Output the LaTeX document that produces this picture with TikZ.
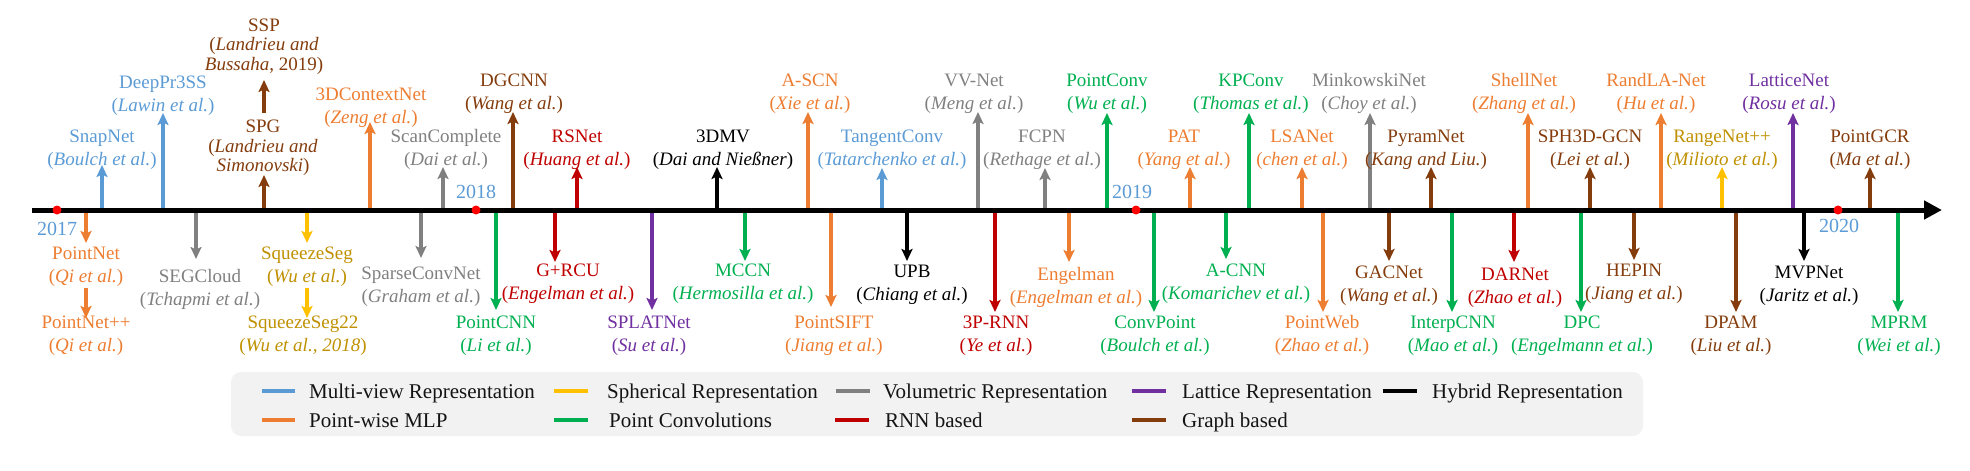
\documentclass[tikz,border=0pt]{standalone}
\usepackage{fontspec}
\setmainfont{Liberation Serif}
\usetikzlibrary{arrows.meta}
\definecolor{mvA}{HTML}{5B9BD5}\definecolor{mvT}{HTML}{5B9BD5}
\definecolor{pwA}{HTML}{ED7D31}\definecolor{pwT}{HTML}{ED7D31}
\definecolor{sphA}{HTML}{FFC000}\definecolor{sphT}{HTML}{BF9000}
\definecolor{volA}{HTML}{808080}\definecolor{volT}{HTML}{808080}
\definecolor{latA}{HTML}{7030A0}\definecolor{latT}{HTML}{7030A0}
\definecolor{hyA}{HTML}{000000}\definecolor{hyT}{HTML}{000000}
\definecolor{pcA}{HTML}{00B050}\definecolor{pcT}{HTML}{00B050}
\definecolor{rnnA}{HTML}{C00000}\definecolor{rnnT}{HTML}{C00000}
\definecolor{grA}{HTML}{843C0C}\definecolor{grT}{HTML}{843C0C}
\definecolor{legbg}{HTML}{F2F2F2}
\tikzset{
  evarrow/.style={line width=3.8pt,-{Stealth[length=12pt,width=11pt,inset=2.5pt]}},
  lab/.style={font=\fontsize{19}{23}\selectfont,align=center,inner sep=0pt},
  labthree/.style={font=\fontsize{19}{19.7}\selectfont,align=center,inner sep=0pt},
  yearlab/.style={font=\fontsize{20}{24}\selectfont,text=mvT,inner sep=0pt},
  legline/.style={line width=4.5pt},
  legtext/.style={font=\fontsize{21}{25}\selectfont,anchor=base west,inner sep=0pt,text=black!92},
  axisline/.style={line width=5pt,-{Triangle[length=18pt,width=18pt]}},
  yeardot/.style={circle,fill=red,inner sep=0pt,minimum size=9pt},
}
% name, category, arrow x, base y, tip y, label x, label y, line1, line2
\newcommand\ev[9]{%
  \coordinate (#1-b) at (#3,#4);
  \coordinate (#1-t) at (#3,#5);
  \draw[evarrow,#2A] (#1-b) -- (#1-t);
  \node[lab,text=#2T] (#1) at (#6,#7) {#8\\(\textit{#9})};
}
\begin{document}
\begin{tikzpicture}[x=1pt,y=-1pt]
\useasboundingbox (0,0) rectangle (1970,471);
% ---- upper events
\ev{snapnet}{mv}{102}{210}{165}{102}{149.5}{SnapNet}{Boulch et al.}
\ev{deeppr}{mv}{163}{210}{113}{163}{95.5}{DeepPr3SS}{Lawin et al.}
\coordinate (spg-b) at (264,210); \coordinate (spg-t) at (264,175);
\draw[evarrow,grA] (spg-b) -- (spg-t);
\node[labthree,text=grT] (spg) at (263,148) {SPG\\(\textit{Landrieu and}\\\textit{Simonovski})};
\coordinate (ssp-b) at (264,113); \coordinate (ssp-t) at (264,80);
\draw[evarrow,grA] (ssp-b) -- (ssp-t);
\node[labthree,text=grT] (ssp) at (264,46.5) {SSP\\(\textit{Landrieu and}\\\textit{Bussaha}, 2019)};
\ev{ctxnet}{pw}{370}{210}{122}{371}{107.5}{3DContextNet}{Zeng et al.}
\ev{scancomp}{vol}{443}{210}{167}{446}{149.5}{ScanComplete}{Dai et al.}
\ev{dgcnn}{gr}{513}{210}{112}{514}{93.5}{DGCNN}{Wang et al.}
\ev{rsnet}{rnn}{577}{210}{167}{577}{149.5}{RSNet}{Huang et al.}
\ev{dmv}{hy}{717}{210}{167}{723}{149.5}{3DMV}{Dai and Nießner}
\ev{ascn}{pw}{808}{210}{112}{810}{93.5}{A-SCN}{Xie et al.}
\ev{tangent}{mv}{882}{210}{168}{892}{149.5}{TangentConv}{Tatarchenko et al.}
\ev{vvnet}{vol}{978}{210}{112}{974}{93.5}{VV-Net}{Meng et al.}
\ev{fcpn}{vol}{1045}{210}{168}{1042}{149.5}{FCPN}{Rethage et al.}
\ev{pconv}{pc}{1107}{210}{113}{1107}{93.5}{PointConv}{Wu et al.}
\ev{pat}{pw}{1190}{210}{167}{1184}{149.5}{PAT}{Yang et al.}
\ev{kpconv}{pc}{1249}{210}{113}{1251}{93.5}{KPConv}{Thomas et al.}
\ev{lsanet}{pw}{1302}{210}{167}{1302}{149.5}{LSANet}{chen et al.}
\ev{minkowski}{vol}{1370}{210}{113}{1369}{93.5}{MinkowskiNet}{Choy et al.}
\ev{pyram}{gr}{1431}{210}{167}{1426}{149.5}{PyramNet}{Kang and Liu.}
\ev{shell}{pw}{1528}{210}{113}{1524}{93.5}{ShellNet}{Zhang et al.}
\ev{sphgcn}{gr}{1590}{210}{167}{1590}{149.5}{SPH3D-GCN}{Lei et al.}
\ev{randla}{pw}{1661}{210}{113}{1656}{93.5}{RandLA-Net}{Hu et al.}
\ev{rangenet}{sph}{1722}{210}{167}{1722}{149.5}{RangeNet++}{Milioto et al.}
\ev{lattice}{lat}{1793}{210}{113}{1789}{93.5}{LatticeNet}{Rosu et al.}
\ev{pointgcr}{gr}{1870}{210}{167}{1870}{149.5}{PointGCR}{Ma et al.}
% ---- lower events
\ev{pointnet}{pw}{86}{210}{243}{86}{266.5}{PointNet}{Qi et al.}
\ev{pointnetpp}{pw}{86}{288}{318}{86}{335.5}{PointNet++}{Qi et al.}
\ev{segcloud}{vol}{196}{210}{259}{200}{289.5}{SEGCloud}{Tchapmi et al.}
\ev{squeeze}{sph}{307}{210}{243}{307}{266.5}{SqueezeSeg}{Wu et al.}
\ev{squeezeb}{sph}{307}{288}{318}{303}{335.5}{SqueezeSeg22}{Wu et al., 2018}
\ev{sparse}{vol}{421}{210}{258}{421}{286.5}{SparseConvNet}{Graham et al.}
\ev{pointcnn}{pc}{496}{210}{310}{496}{335.5}{PointCNN}{Li et al.}
\ev{grcu}{rnn}{555}{210}{262}{568}{283.5}{G+RCU}{Engelman et al.}
\ev{splat}{lat}{652}{210}{310}{649}{335.5}{SPLATNet}{Su et al.}
\ev{mccn}{pc}{745}{210}{261}{743}{283.5}{MCCN}{Hermosilla et al.}
\ev{pointsift}{pw}{831}{210}{307}{834}{335.5}{PointSIFT}{Jiang et al.}
\ev{upb}{hy}{907}{210}{261}{912}{284.5}{UPB}{Chiang et al.}
\ev{prnn}{rnn}{995}{210}{312}{996}{335.5}{3P-RNN}{Ye et al.}
\ev{engelman}{pw}{1069}{210}{262}{1076}{287.5}{Engelman}{Engelman et al.}
\ev{convpoint}{pc}{1154}{210}{312}{1155}{335.5}{ConvPoint}{Boulch et al.}
\ev{acnn}{pc}{1226}{210}{259}{1236}{283.5}{A-CNN}{Komarichev et al.}
\ev{pointweb}{pw}{1323}{210}{312}{1322}{335.5}{PointWeb}{Zhao et al.}
\ev{gacnet}{gr}{1389}{210}{261}{1389}{285.5}{GACNet}{Wang et al.}
\ev{interp}{pc}{1452}{210}{312}{1453}{335.5}{InterpCNN}{Mao et al.}
\ev{darnet}{rnn}{1514}{210}{262}{1515}{287.5}{DARNet}{Zhao et al.}
\ev{dpc}{pc}{1581}{210}{312}{1582}{335.5}{DPC}{Engelmann et al.}
\ev{hepin}{gr}{1634}{210}{260}{1634}{283.5}{HEPIN}{Jiang et al.}
\ev{dpam}{gr}{1736}{210}{312}{1731}{335.5}{DPAM}{Liu et al.}
\ev{mvpnet}{hy}{1804}{210}{261}{1809}{285.5}{MVPNet}{Jaritz et al.}
\ev{mprm}{pc}{1898}{210}{312}{1899}{335.5}{MPRM}{Wei et al.}
% ---- axis
\coordinate (axs) at (32,210);
\coordinate (axe) at (1942,210);
\draw[axisline] (axs) -- (axe);
\node[yeardot] (d2017) at (57,210) {};
\node[yeardot] (d2018) at (476,210) {};
\node[yeardot] (d2019) at (1136,210) {};
\node[yeardot] (d2020) at (1838,210) {};
\node[yearlab] (y2017) at (57,229) {2017};
\node[yearlab] (y2018) at (476,192) {2018};
\node[yearlab] (y2019) at (1132,192) {2019};
\node[yearlab] (y2020) at (1839,226) {2020};
% ---- legend
\fill[legbg,rounded corners=10pt] (231,372) rectangle (1643,436);
\draw[legline,mvA] (262,391) -- (295,391);
\node[legtext] (lgmv) at (309,398) {Multi-view Representation};
\draw[legline,sphA] (554,391) -- (588,391);
\node[legtext] (lgsph) at (607,398) {Spherical Representation};
\draw[legline,volA] (836,391) -- (870,391);
\node[legtext] (lgvol) at (883,398) {Volumetric Representation};
\draw[legline,latA] (1132,391) -- (1166,391);
\node[legtext] (lglat) at (1182,398) {Lattice Representation};
\draw[legline,hyA] (1383,391) -- (1417,391);
\node[legtext] (lghy) at (1432,398) {Hybrid Representation};
\draw[legline,pwA] (262,420) -- (295,420);
\node[legtext] (lgpw) at (309,427) {Point-wise MLP};
\draw[legline,pcA] (554,420) -- (588,420);
\node[legtext] (lgpc) at (609,427) {Point Convolutions};
\draw[legline,rnnA] (835,420) -- (869,420);
\node[legtext] (lgrnn) at (885,427) {RNN based};
\draw[legline,grA] (1132,420) -- (1166,420);
\node[legtext] (lggr) at (1182,427) {Graph based};
\end{tikzpicture}
\end{document}
